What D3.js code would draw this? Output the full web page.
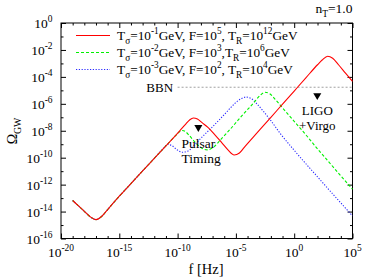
<!DOCTYPE html>
<html><head><meta charset="utf-8">
<script src="https://cdn.jsdelivr.net/npm/d3@7"></script>
<style>
body{margin:0;background:#fff}
text{font-family:"Liberation Serif","Times New Roman",serif;fill:#000}
</style>
</head><body>
<svg id="chart" width="375" height="279"></svg>
<script>
// ---- data (log10 values) ----
const xMajorExps = [-20, -15, -10, -5, 0, 5];
const yMajorExps = [0, -2, -4, -6, -8, -10, -12, -14, -16];

const redLogF = [-19,-18.5,-18,-17.5,-17,-16.5,-16,-15,-14,-13,-12,-11,-10.3,-9.8,-9.3,-8.95,-8.65,-8.3,-7.9,-7.4,-6.8,-6.2,-5.7,-5.15,-4.7,-4.3,-3,-2,-1,0,1,2,2.4,2.87,3.3,3.8,4.4,5];
const redLogOmega = [-13.18,-13.58,-13.98,-14.38,-14.6,-14.35,-13.85,-12.86,-11.92,-10.98,-10.05,-9.12,-8.47,-7.99,-7.5,-7.18,-7.05,-7.12,-7.4,-7.75,-8.3,-8.9,-9.4,-9.8,-9.65,-9.25,-7.98,-7.0,-6.03,-5.05,-4.07,-3.1,-2.75,-2.47,-2.62,-3.1,-3.72,-4.33];

const greenLogF = [-19,-18.5,-18,-17.5,-17,-16.5,-16,-15,-14,-13,-12,-11,-10.5,-10.1,-9.8,-9.6,-9.35,-9.0,-8.5,-8.0,-7.45,-6.9,-6.3,-5.5,-4.5,-3.5,-2.9,-2.5,-2.1,-1.6,-1,0,1,2,3,4,5];
const greenLogOmega = [-13.18,-13.58,-13.98,-14.38,-14.6,-14.35,-13.85,-12.86,-11.92,-10.98,-10.05,-9.12,-8.65,-8.3,-8.05,-7.98,-8.05,-8.35,-8.85,-9.25,-9.42,-9.2,-8.65,-7.9,-6.9,-5.95,-5.35,-5.14,-5.25,-5.7,-6.3,-7.3,-8.3,-9.35,-10.35,-11.35,-12.34];

const blueLogF = [-19,-18.5,-18,-17.5,-17,-16.5,-16,-15,-14,-13,-12,-11.2,-10.85,-10.5,-10.1,-9.6,-9.1,-8.6,-8,-7,-6,-5.5,-5,-4.5,-4.13,-3.7,-3.2,-2.6,-2,-1.2,0,1,2,3,4,5];
const blueLogOmega = [-13.18,-13.58,-13.98,-14.38,-14.6,-14.35,-13.85,-12.86,-11.92,-10.98,-10.05,-9.3,-9.02,-9.1,-9.38,-9.6,-9.5,-9.1,-8.55,-7.7,-6.8,-6.33,-5.9,-5.6,-5.5,-5.6,-6.0,-6.6,-7.25,-8.2,-9.45,-10.45,-11.42,-12.4,-13.36,-14.32];

const seriesNames = [
  "T_{σ}=10^{-1}GeV, F=10^{5}, T_{R}=10^{12}GeV",
  "T_{σ}=10^{-2}GeV, F=10^{3},T_{R}=10^{6}GeV",
  "T_{σ}=10^{-3}GeV, F=10^{2}, T_{R}=10^{4}GeV"
];
const markerLogF = [-8.22, 1.98];
const markerLogOmega = [-7.75, -5.38];
const bbnLogF = [-10, 5];
const bbnLogOmega = -4.77;

// ---- setup ----
const svg = d3.select("#chart");
const x = d3.scaleLog().domain([1e-20, 1e5]).range([61, 352.5]);
const y = d3.scaleLog().domain([1e-16, 1]).range([238.5, 23]);
const pw = v => Math.pow(10, v);

function rich(sel, str, fs) {
  const re = /([_^])\{([^}]*)\}|([^_^]+)/g;
  let m, off = 0;
  while ((m = re.exec(str))) {
    let target = 0, s = fs, t;
    if (m[1] === '^') { target = -fs * 0.42; s = fs * 0.7; t = m[2]; }
    else if (m[1] === '_') { target = fs * 0.28; s = fs * 0.7; t = m[2]; }
    else { t = m[3]; }
    sel.append("tspan").attr("dy", (target - off).toFixed(2)).attr("font-size", s).text(t);
    off = target;
  }
}

// ---- axes ticks (inward) ----
const xMinor = d3.range(-20, 6).filter(e => !xMajorExps.includes(e)).map(pw);
const yMinor = d3.range(-16, 1).filter(e => !yMajorExps.includes(e)).map(pw);
const xMaj = xMajorExps.map(pw), yMaj = yMajorExps.map(pw);

function addAxis(axisFn, scale, vals, size, transform) {
  const g = svg.append("g").attr("transform", transform)
    .call(axisFn(scale).tickValues(vals).tickSizeInner(-size).tickSizeOuter(0).tickFormat(""));
  g.select(".domain").remove();
  g.selectAll("line").attr("stroke", "#000").attr("stroke-width", 1);
  return g;
}
addAxis(d3.axisBottom, x, xMaj, 5, "translate(0,238.5)");
addAxis(d3.axisBottom, x, xMinor, 2.5, "translate(0,238.5)");
addAxis(d3.axisTop, x, xMaj, 5, "translate(0,23)");
addAxis(d3.axisTop, x, xMinor, 2.5, "translate(0,23)");
addAxis(d3.axisLeft, y, yMaj, 5, "translate(61,0)");
addAxis(d3.axisLeft, y, yMinor, 2.5, "translate(61,0)");
addAxis(d3.axisRight, y, yMaj, 5, "translate(352.5,0)");
addAxis(d3.axisRight, y, yMinor, 2.5, "translate(352.5,0)");

svg.append("rect").attr("x", 61).attr("y", 23).attr("width", 291.5).attr("height", 215.5)
  .attr("fill", "none").attr("stroke", "#000").attr("stroke-width", 1);

// tick labels
const tfs = 13.5;
xMajorExps.forEach(e => {
  const t = svg.append("text").attr("x", x(pw(e))).attr("y", 256.5).attr("text-anchor", "middle").attr("font-size", tfs);
  rich(t, "10^{" + e + "}", tfs);
});
yMajorExps.forEach(e => {
  const t = svg.append("text").attr("x", 52.5).attr("y", y(pw(e)) + 5).attr("text-anchor", "end").attr("font-size", tfs);
  rich(t, "10^{" + e + "}", tfs);
});

// axis titles
svg.append("text").attr("x", 206).attr("y", 273.5).attr("text-anchor", "middle").attr("font-size", 14.5).text("f [Hz]");
const yt = svg.append("text").attr("transform", "translate(17,131) rotate(-90)").attr("text-anchor", "middle").attr("font-size", 14);
rich(yt, "Ω_{GW}", 14);
const nt = svg.append("text").attr("x", 352.5).attr("y", 13).attr("text-anchor", "end").attr("font-size", 13.5);
rich(nt, "n_{T}=1.0", 13.5);

// BBN line
svg.append("line").attr("x1", x(pw(bbnLogF[0]))).attr("x2", x(pw(bbnLogF[1])))
  .attr("y1", y(pw(bbnLogOmega))).attr("y2", y(pw(bbnLogOmega)))
  .attr("stroke", "#888").attr("stroke-width", 0.8).attr("stroke-dasharray", "2,2");
svg.append("text").attr("x", x(pw(bbnLogF[0])) - 4.5).attr("y", y(pw(bbnLogOmega)) + 4.5).attr("text-anchor", "end").attr("font-size", 13).text("BBN");

// curves
const line = d3.line().x(d => x(pw(d[0]))).y(d => y(pw(d[1]))).curve(d3.curveMonotoneX);
const series = [
  { f: redLogF, o: redLogOmega, color: "#ff0000", dash: null },
  { f: greenLogF, o: greenLogOmega, color: "#00f000", dash: "3,2" },
  { f: blueLogF, o: blueLogOmega, color: "#2a2aff", dash: "1.2,1.6" }
];
series.slice().reverse().forEach(s => {
  svg.append("path").datum(d3.zip(s.f, s.o)).attr("d", line)
    .attr("fill", "none").attr("stroke", s.color).attr("stroke-width", 1.1)
    .attr("stroke-dasharray", s.dash);
});

// markers
const tri = d3.symbol().type(d3.symbolTriangle).size(28);
markerLogF.forEach((f, i) => {
  svg.append("path").attr("d", tri)
    .attr("transform", `translate(${x(pw(f))},${y(pw(markerLogOmega[i]))}) rotate(180)`)
    .attr("fill", "#000");
});
// marker labels
svg.append("text").attr("x", 181.5).attr("y", 148).attr("font-size", 13.5).text("Pulsar");
svg.append("text").attr("x", 181.5).attr("y", 163).attr("font-size", 13.5).text("Timing");
svg.append("text").attr("x", x(pw(markerLogF[1]))).attr("y", 115).attr("text-anchor", "middle").attr("font-size", 13).text("LIGO");
svg.append("text").attr("x", x(pw(markerLogF[1]))).attr("y", 129.5).attr("text-anchor", "middle").attr("font-size", 13).text("+Virgo");

// legend
const legY = [35.5, 52.5, 69.5];
const lfs = 13.3;
series.forEach((s, i) => {
  svg.append("line").attr("x1", 76).attr("x2", 110).attr("y1", legY[i]).attr("y2", legY[i])
    .attr("stroke", s.color).attr("stroke-width", 1.1).attr("stroke-dasharray", s.dash);
  const t = svg.append("text").attr("x", 117).attr("y", legY[i] + 4.5).attr("font-size", lfs);
  rich(t, seriesNames[i], lfs);
});
</script>
</body></html>
